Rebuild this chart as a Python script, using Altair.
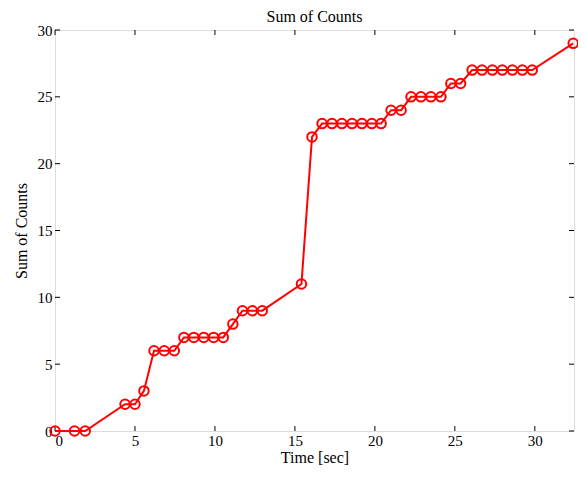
import altair as alt
import pandas as pd

# Data
time_sec = [0.0, 1.22, 1.89, 4.38, 5.0, 5.56, 6.19, 6.83, 7.46, 8.06, 8.68, 9.3, 9.92,
            10.52, 11.12, 11.72, 12.34, 12.96, 15.41, 16.07, 16.7, 17.32, 17.94, 18.57,
            19.19, 19.81, 20.39, 21.01, 21.64, 22.26, 22.88, 23.5, 24.13, 24.75, 25.36,
            26.08, 26.7, 27.35, 27.97, 28.6, 29.22, 29.84, 32.4]
sum_counts = [0, 0, 0, 2, 2, 3, 6, 6, 6, 7, 7, 7, 7,
              7, 8, 9, 9, 9, 11, 22, 23, 23, 23, 23,
              23, 23, 23, 24, 24, 25, 25, 25, 25, 26, 26,
              27, 27, 27, 27, 27, 27, 27, 29]
x_ticks = [0, 5, 10, 15, 20, 25, 30]
y_ticks = [0, 5, 10, 15, 20, 25, 30]

W, H = 519, 401
FONT = "Liberation Serif"
TICK = 5

df = pd.DataFrame({"t": time_sec, "s": sum_counts})
xt = pd.DataFrame({"v": x_ticks})
yt = pd.DataFrame({"v": y_ticks})

xscale = alt.Scale(domain=[0, 32.45], nice=False, zero=False)
yscale = alt.Scale(domain=[0, 30], nice=False)

xaxis = alt.Axis(values=x_ticks, ticks=False, domain=False, grid=False, labelFont=FONT,
                 labelFontSize=15, labelColor="black", labelPadding=2, title="Time [sec]",
                 titleFont=FONT, titleFontSize=16, titleFontWeight="normal",
                 titleColor="black", titlePadding=1)
yaxis = alt.Axis(values=y_ticks, ticks=False, domain=False, grid=False, labelFont=FONT,
                 labelFontSize=15, labelColor="black", labelPadding=3, title="Sum of Counts",
                 titleFont=FONT, titleFontSize=16, titleFontWeight="normal",
                 titleColor="black", titlePadding=8)

base = alt.Chart(df)
line = base.mark_line(color="#ff0000", strokeWidth=2).encode(
    x=alt.X("t:Q", scale=xscale, axis=xaxis),
    y=alt.Y("s:Q", scale=yscale, axis=yaxis),
)
pts = base.mark_point(shape="circle", filled=False, color="#ff0000", strokeWidth=2,
                      size=90, opacity=1).encode(
    x=alt.X("t:Q", scale=xscale),
    y=alt.Y("s:Q", scale=yscale),
)

# inward ticks (MATLAB-style) on all four sides
xb = alt.Chart(xt).mark_rule(color="black", strokeWidth=1).encode(
    x=alt.X("v:Q", scale=xscale), y=alt.value(H), y2=alt.value(H - TICK))
xtp = alt.Chart(xt).mark_rule(color="black", strokeWidth=1).encode(
    x=alt.X("v:Q", scale=xscale), y=alt.value(0), y2=alt.value(TICK))
yl = alt.Chart(yt).mark_rule(color="black", strokeWidth=1).encode(
    y=alt.Y("v:Q", scale=yscale), x=alt.value(0), x2=alt.value(TICK))
yr = alt.Chart(yt).mark_rule(color="black", strokeWidth=1).encode(
    y=alt.Y("v:Q", scale=yscale), x=alt.value(W), x2=alt.value(W - TICK))

chart = alt.layer(xb, xtp, yl, yr, line, pts).properties(
    width=W, height=H,
    title=alt.TitleParams("Sum of Counts", font=FONT, fontSize=16, fontWeight="normal",
                          color="black", anchor="middle", frame="group", offset=0, dy=2),
    autosize=alt.AutoSizeParams(type="none"),
    padding={"left": 47, "top": 22, "right": 4, "bottom": 38},
).configure_view(stroke="black", strokeWidth=1, clip=False).configure(background="white")

chart.save("out.html", embed_options={"renderer": "svg", "actions": False})
